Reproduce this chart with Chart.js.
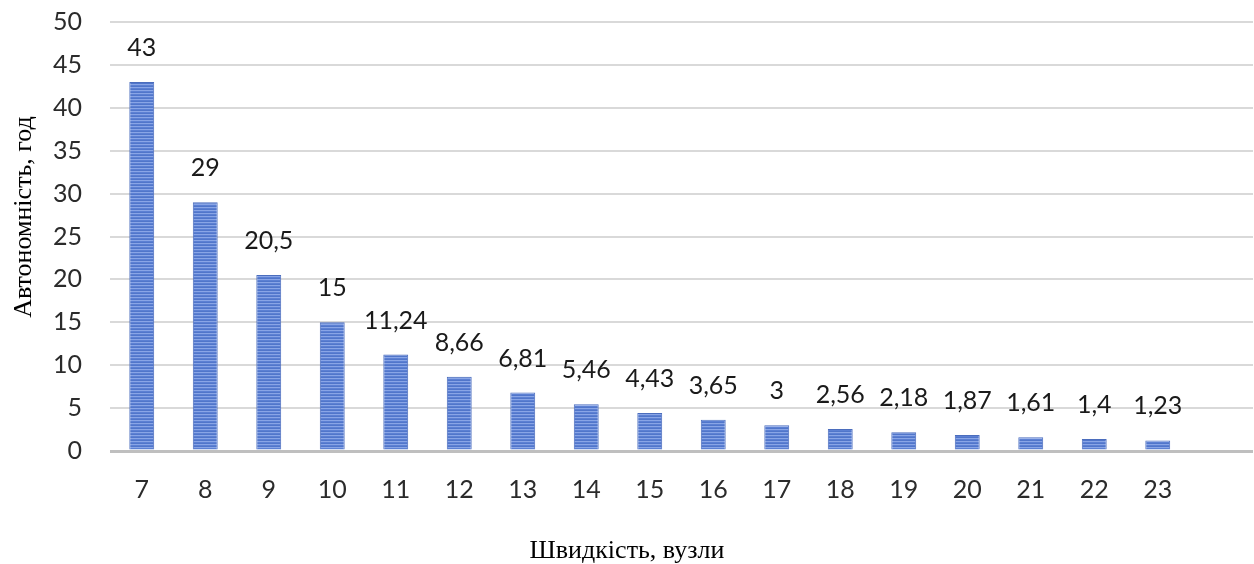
<!DOCTYPE html>
<html>
<head>
<meta charset="utf-8">
<script src="https://cdn.jsdelivr.net/npm/chart.js@4.4.1/dist/chart.umd.min.js"></script>
<style>
  html, body { margin: 0; padding: 0; background: #ffffff; }
  #wrap { width: 1254px; height: 564px; position: relative; }
</style>
</head>
<body>
<div id="wrap"><canvas id="chart" width="1254" height="564"></canvas></div>
<script>
// Speed in knots (last slot is an empty category)
const speeds = ['7', '8', '9', '10', '11', '12', '13', '14', '15', '16', '17', '18', '19', '20', '21', '22', '23', ''];
// Endurance in hours at each speed
const endurance = [43, 29, 20.5, 15, 11.24, 8.66, 6.81, 5.46, 4.43, 3.65, 3, 2.56, 2.18, 1.87, 1.61, 1.4, 1.23, null];
const yTicks = [0, 5, 10, 15, 20, 25, 30, 35, 40, 45, 50];
const xTitle = 'Швидкість, вузли';
const yTitle = 'Автономність, год';

const NUM_FONT = 'Lato, "Open Sans", sans-serif';
const TITLE_FONT = '26px "Liberation Serif", "Times New Roman", serif';

// Striped blue fill for the bars
function stripeFill() {
  const c = document.createElement('canvas');
  c.width = 1; c.height = 3;
  const g = c.getContext('2d');
  const rows = ['#89a5e6', '#5c80d3', '#5176ca'];
  rows.forEach((col, i) => { g.fillStyle = col; g.fillRect(0, i, 1, 1); });
  return g.createPattern(c, 'repeat');
}

const fmt = v => String(v).replace('.', ',');

// Value labels above each bar
const valueLabels = {
  id: 'valueLabels',
  afterDatasetsDraw(chart) {
    const ctx = chart.ctx;
    const meta = chart.getDatasetMeta(0);
    ctx.save();
    ctx.font = '25px ' + NUM_FONT;
    ctx.fillStyle = '#1a1a1a';
    ctx.textAlign = 'center';
    ctx.textBaseline = 'alphabetic';
    meta.data.forEach((bar, i) => {
      const v = chart.data.datasets[0].data[i];
      if (v === null || v === undefined) return;
      ctx.fillText(fmt(v), bar.x, bar.y - 26);
    });
    ctx.restore();
  }
};

// Axis titles: x title centred on the page, y title rotated at the left edge
const axisTitles = {
  id: 'axisTitles',
  afterDraw(chart) {
    const ctx = chart.ctx;
    ctx.save();
    ctx.font = TITLE_FONT;
    ctx.fillStyle = '#000000';
    ctx.textAlign = 'center';
    ctx.textBaseline = 'middle';
    ctx.fillText(xTitle, chart.width / 2, 551);
    ctx.translate(24, 217);
    ctx.rotate(-Math.PI / 2);
    ctx.fillText(yTitle, 0, 0);
    ctx.restore();
  }
};

new Chart(document.getElementById('chart'), {
  type: 'bar',
  data: {
    labels: speeds,
    datasets: [{
      data: endurance,
      backgroundColor: stripeFill(),
      borderColor: '#4b6dbd',
      borderWidth: 1,
      categoryPercentage: 0.8,
      barPercentage: 0.49
    }]
  },
  options: {
    responsive: false,
    animation: false,
    devicePixelRatio: 1,
    layout: { padding: { top: 22, right: 1, bottom: 0, left: 0 } },
    plugins: { legend: { display: false }, tooltip: { enabled: false } },
    scales: {
      x: {
        grid: { display: false, drawTicks: false },
        border: { display: false },
        ticks: {
          color: '#2b2b2b',
          font: { family: NUM_FONT, size: 25 },
          padding: 24,
          maxRotation: 0,
          autoSkip: false
        },
        afterFit(scale) { scale.height = 113; }
      },
      y: {
        min: 0,
        max: 50,
        afterBuildTicks(scale) { scale.ticks = yTicks.map(v => ({ value: v })); },
        grid: {
          drawTicks: false,
          color: ctx => ctx.tick && ctx.tick.value === 0 ? '#bfbfbf' : '#d9d9d9',
          lineWidth: ctx => ctx.tick && ctx.tick.value === 0 ? 3 : 2
        },
        border: { display: false },
        ticks: {
          color: '#2b2b2b',
          font: { family: NUM_FONT, size: 25 },
          padding: 28
        },
        afterFit(scale) {
          scale.width = 110;
          // tick padding is horizontal only; keep the vertical reserve to half a label
          scale.paddingTop = 15;
          scale.paddingBottom = 15;
        }
      }
    }
  },
  plugins: [valueLabels, axisTitles]
});
</script>
</body>
</html>
